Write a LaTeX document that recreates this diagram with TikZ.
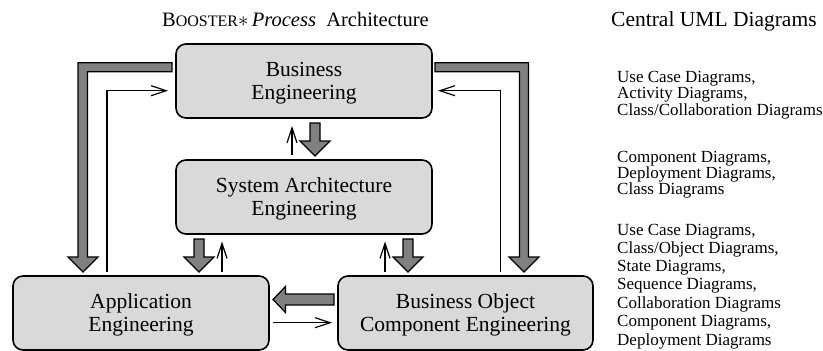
\documentclass[tikz,border=0pt]{standalone}
\usepackage{fontspec}
\setmainfont{Liberation Serif}
\usetikzlibrary{arrows.meta}

\definecolor{boxgray}{RGB}{217,217,217}
\definecolor{arrowgray}{RGB}{128,128,128}

% downward block arrow: centre x, top of shaft, tip
\newcommand\blockdown[3]{%
  \draw[block] ({#1-5},#2) -- ({#1+5},#2) -- ({#1+5},{#3-15}) -- ({#1+15},{#3-15})
    -- (#1,#3) -- ({#1-15},{#3-15}) -- ({#1-5},{#3-15}) -- cycle;}

\begin{document}
\begin{tikzpicture}[x=1pt,y=-1pt,
  stage/.style={draw=black, line width=1.6pt, rounded corners=10pt, fill=boxgray,
    minimum width=256pt, minimum height=74pt, align=center, inner sep=0pt,
    font=\fontsize{21.5}{23}\selectfont, text depth=0pt},
  flow/.style={draw=black, line width=1.2pt,
    -{Straight Barb[length=15pt,width=10pt,line width=1.2pt]}},
  block/.style={draw=black, line width=1.2pt, fill=arrowgray, line join=miter},
  heading/.style={anchor=base west, inner sep=0pt, font=\fontsize{20.5}{23}\selectfont},
  diag/.style={anchor=base west, inner sep=0pt, font=\fontsize{17}{18}\selectfont}]

\useasboundingbox (0,0) rectangle (823,351);

% headings
\node[heading] (archtitle) at (162,26)
  {B{\fontsize{16}{16}\selectfont OOSTER}$\ast$\,\textit{Process}\ \ Architecture};
\node[heading, font=\fontsize{21.5}{23}\selectfont] (umltitle) at (611,26) {Central UML Diagrams};

% the four engineering stages
\node[stage] (be) at (304,81)  {Business\\Engineering};
\node[stage] (sa) at (304,197) {System Architecture\\Engineering};
\node[stage] (ae) at (141,313) {Application\\Engineering};
\node[stage, minimum width=255pt] (bo) at (465.5,313) {Business Object\\Component Engineering};

% outer feedback loops: thick results flowing down
\draw[block] (172,62.7) -- (78,62.7) -- (78,257) -- (68,257) -- (83,272)
  -- (98,257) -- (87.5,257) -- (87.5,71.7) -- (172,71.7) -- cycle;
\draw[block] (435,62.7) -- (528.5,62.7) -- (528.5,257) -- (539,257) -- (524,272)
  -- (509,257) -- (519.5,257) -- (519.5,71.7) -- (435,71.7) -- cycle;

% thick arrows between neighbouring stages
\blockdown{315}{123}{156}
\blockdown{199}{239}{272}
\blockdown{408}{239}{272}
\draw[block] (334,294) -- (285.5,294) -- (285.5,286.5) -- (273,299.5)
  -- (285.5,312.5) -- (285.5,305) -- (334,305) -- cycle;

% thin feedback arrows
\coordinate (aeup) at (107,272);
\coordinate (bein) at (168,90.7);
\coordinate (boup) at (500.7,272);
\coordinate (beinr) at (438,90.7);
\draw[flow] (aeup) |- (bein);
\draw[flow] (boup) |- (beinr);
\draw[flow] (292,155) -- (292,126);
\draw[flow] (222,272) -- (222,241.5);
\draw[flow] (385,272) -- (385,241.5);
\draw[flow] (273,322.7) -- (332,322.7);

% central UML diagrams per stage
\node[diag] (d1) at (617,82)    {Use Case Diagrams,};
\node[diag] (d2) at (617,98.5)  {Activity Diagrams,};
\node[diag] (d3) at (617,115)   {Class/Collaboration Diagrams};
\node[diag] (d4) at (617,162)   {Component Diagrams,};
\node[diag] (d5) at (617,178.3) {Deployment Diagrams,};
\node[diag] (d6) at (617,194.5) {Class Diagrams};
\node[diag] (d7) at (617,235)   {Use Case Diagrams,};
\node[diag] (d8) at (617,253.3) {Class/Object Diagrams,};
\node[diag] (d9) at (617,271.7) {State Diagrams,};
\node[diag] (d10) at (617,289.5) {Sequence Diagrams,};
\node[diag] (d11) at (617,308.2) {Collaboration Diagrams};
\node[diag] (d12) at (617,326.8) {Component Diagrams,};
\node[diag] (d13) at (617,345.5) {Deployment Diagrams};
\end{tikzpicture}
\end{document}
